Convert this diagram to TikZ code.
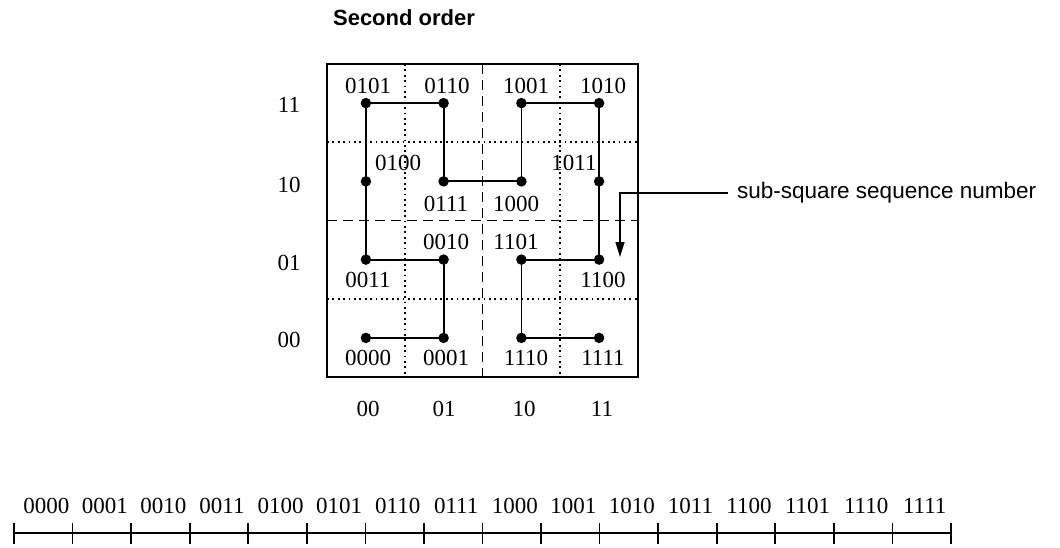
\documentclass[tikz,border=0pt]{standalone}
\usepackage{fontspec}
\setmainfont{Liberation Serif}
\setsansfont{Liberation Sans}
\usetikzlibrary{arrows.meta}
\begin{document}
\begin{tikzpicture}[x=1pt,y=-1pt,
  num/.style={font=\fontsize{23}{27}\selectfont, inner sep=0pt},
  vertex/.style={circle, fill=black, inner sep=0pt, minimum size=10.5pt},
  frame/.style={line width=2pt},
  finegrid/.style={line width=1.6pt, dash pattern=on 1.8pt off 3.6pt},
  halfgrid/.style={line width=1.6pt, dash pattern=on 10pt off 6pt},
  curve/.style={line width=1.8pt},
  scale line/.style={line width=1.7pt},
]
\useasboundingbox (0,0) rectangle (1060,548);

% title
\node[font=\sffamily\bfseries\fontsize{22}{26}\selectfont, inner sep=0pt] (title) at (404,18) {Second order};

% quadrant and sub-square grid
\draw[finegrid] (404.75,64) -- (404.75,377);
\draw[finegrid] (560.25,64) -- (560.25,377);
\draw[finegrid] (327,142.25) -- (638,142.25);
\draw[finegrid] (327,298.75) -- (638,298.75);
\draw[halfgrid] (482.5,64) -- (482.5,377);
\draw[halfgrid] (327,220.5) -- (638,220.5);
\draw[frame] (327,64) rectangle (638,377);

% curve vertices (cell centres), in sequence order
\foreach \i/\x/\y in {0/365.9/337.9, 1/443.6/337.9, 2/443.6/259.6, 3/365.9/259.6,
                      4/365.9/181.4, 5/365.9/103.1, 6/443.6/103.1, 7/443.6/181.4,
                      8/521.4/181.4, 9/521.4/103.1, 10/599.1/103.1, 11/599.1/181.4,
                      12/599.1/259.6, 13/521.4/259.6, 14/521.4/337.9, 15/599.1/337.9}
  \node[vertex] (h\i) at (\x,\y) {};

\draw[curve] (h0.center) -- (h1.center) -- (h2.center) -- (h3.center) -- (h4.center)
  -- (h5.center) -- (h6.center) -- (h7.center) -- (h8.center) -- (h9.center)
  -- (h10.center) -- (h11.center) -- (h12.center) -- (h13.center) -- (h14.center)
  -- (h15.center);

% sequence numbers of the sub-squares
\node[num] (l0101) at (368,86) {0101};
\node[num] (l0110) at (447,86) {0110};
\node[num] (l1001) at (526,86) {1001};
\node[num] (l1010) at (603,86) {1010};
\node[num] (l0100) at (398,163) {0100};
\node[num] (l1011) at (574,163) {1011};
\node[num] (l0111) at (446,204) {0111};
\node[num] (l1000) at (516,204) {1000};
\node[num] (l0010) at (446,242) {0010};
\node[num] (l1101) at (516,242) {1101};
\node[num] (l0011) at (368,280) {0011};
\node[num] (l1100) at (603,280) {1100};
\node[num] (l0000) at (368,358) {0000};
\node[num] (l0001) at (446,358) {0001};
\node[num] (l1110) at (526,358) {1110};
\node[num] (l1111) at (603,358) {1111};

% row and column coordinates
\node[num] (r11) at (289,105) {11};
\node[num] (r10) at (289,185) {10};
\node[num] (r01) at (289,263) {01};
\node[num] (r00) at (289,340) {00};
\node[num] (c00) at (368,409) {00};
\node[num] (c01) at (444,409) {01};
\node[num] (c10) at (524,409) {10};
\node[num] (c11) at (602,409) {11};

% pointer to a sub-square
\node[font=\sffamily\fontsize{22.5}{26}\selectfont, inner ysep=0pt, inner xsep=9pt, anchor=west]
  (seqlabel) at (728,193) {sub-square sequence number};
\coordinate (tip) at (620,257);
\draw[curve, line width=1.6pt, -{Triangle[length=15pt, width=9pt]}] (seqlabel.west) -| (tip);

% one-dimensional sequence scale
\draw[scale line] (14,533) -- (951,533);
\foreach \i in {0,...,16}
  \draw[scale line] ({14+58.5625*\i},523) -- ({14+58.5625*\i},544);
\foreach \s [count=\k from 0] in {0000,0001,0010,0011,0100,0101,0110,0111,
                                  1000,1001,1010,1011,1100,1101,1110,1111}
  \node[num] (s\s) at ({14+58.5625*\k+29.3+3},506) {\s};
\end{tikzpicture}
\end{document}
